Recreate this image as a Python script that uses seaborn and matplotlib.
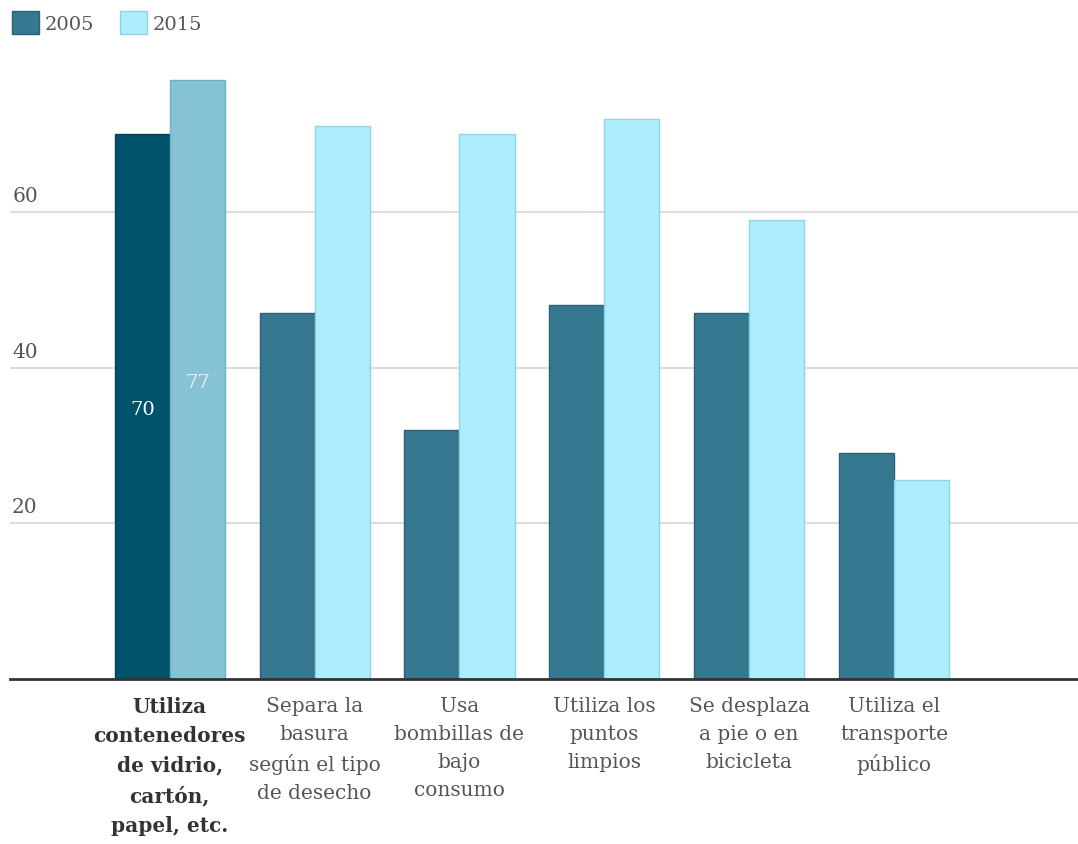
import matplotlib
matplotlib.use("Agg")
import matplotlib.pyplot as plt
import seaborn as sns
import pandas as pd
from matplotlib.patches import Patch

categories = [
    "Utiliza\ncontenedores\nde vidrio,\ncartón,\npapel, etc.",
    "Separa la\nbasura\nsegún el tipo\nde desecho",
    "Usa\nbombillas de\nbajo\nconsumo",
    "Utiliza los\npuntos\nlimpios",
    "Se desplaza\na pie o en\nbicicleta",
    "Utiliza el\ntransporte\npúblico",
]
values_2005 = [70, 47, 32, 48, 47, 29]
values_2015 = [77, 71, 70, 72, 59, 25.6]
years = ["2005", "2015"]
yticks = [20, 40, 60]

df = pd.DataFrame({
    "cat": categories * 2,
    "val": values_2005 + values_2015,
    "year": [years[0]] * len(categories) + [years[1]] * len(categories),
})

sns.set_theme(style="white")
plt.rcParams["font.family"] = ["DejaVu Serif"]

c05, c15 = "#367890", "#aeeefc"
e05, e15 = "#2a6078", "#8fd3e6"
h05, h15 = "#00526b", "#84c2d4"

fig = plt.figure(figsize=(10.78, 8.45), dpi=100)
ax = fig.add_axes([10 / 1078, 1 - 680 / 845, 1 - 10 / 1078, (680 - 57.3) / 845])

sns.barplot(data=df, x="cat", y="val", hue="year", order=categories,
            hue_order=years, palette=[c05, c15], width=0.76, ax=ax,
            legend=False, saturation=1)

for bar in ax.containers[0]:
    bar.set_edgecolor(e05); bar.set_linewidth(1)
for bar in ax.containers[1]:
    bar.set_edgecolor(e15); bar.set_linewidth(1)
b0 = ax.containers[0][0]; b1 = ax.containers[1][0]
b0.set_facecolor(h05); b0.set_edgecolor("#004458")
b1.set_facecolor(h15); b1.set_edgecolor("#6fb0c3")
for b, col in ((b0, "white"), (b1, "#eeeeee")):
    ax.text(b.get_x() + b.get_width() / 2, b.get_height() / 2 - 0.3,
            f"{b.get_height():g}", ha="center", va="center",
            color=col, fontsize=14)

ax.set_xlim(-1.103, 6.27)
ax.set_ylim(0, 80)
ax.set_yticks(yticks)
ax.set_yticklabels([])
ax.tick_params(axis="y", length=0)
for t in yticks:
    ax.axhline(t, color="#dddddd", lw=1.5, zorder=0)
    ax.text(0.002, t + 0.9, str(t), transform=ax.get_yaxis_transform(),
            ha="left", va="bottom", fontsize=14.5, color="#555555")
ax.set_axisbelow(True)

for s in ["top", "right", "left"]:
    ax.spines[s].set_visible(False)
ax.spines["bottom"].set_color("#333333")
ax.spines["bottom"].set_linewidth(2)

ax.set_xlabel(""); ax.set_ylabel("")
ax.tick_params(axis="x", length=0, pad=12)
labels = ax.get_xticklabels()
for i, lab in enumerate(labels):
    lab.set_fontsize(14.5)
    lab.set_linespacing(1.6)
    lab.set_multialignment("center")
    lab.set_verticalalignment("top")
    if i == 0:
        lab.set_fontweight("bold"); lab.set_color("#333333")
    else:
        lab.set_color("#555555")

handles = [Patch(facecolor=c05, edgecolor=e05), Patch(facecolor=c15, edgecolor=e15)]
fig.legend(handles, years, loc="upper left", bbox_to_anchor=(0.002, 0.997),
           ncol=2, frameon=False, fontsize=14, handlelength=1.4,
           handleheight=1.4, handletextpad=0.3, columnspacing=1.3,
           labelcolor="#555555", borderaxespad=0.1)

fig.savefig("out.png", dpi=100, facecolor="white")
